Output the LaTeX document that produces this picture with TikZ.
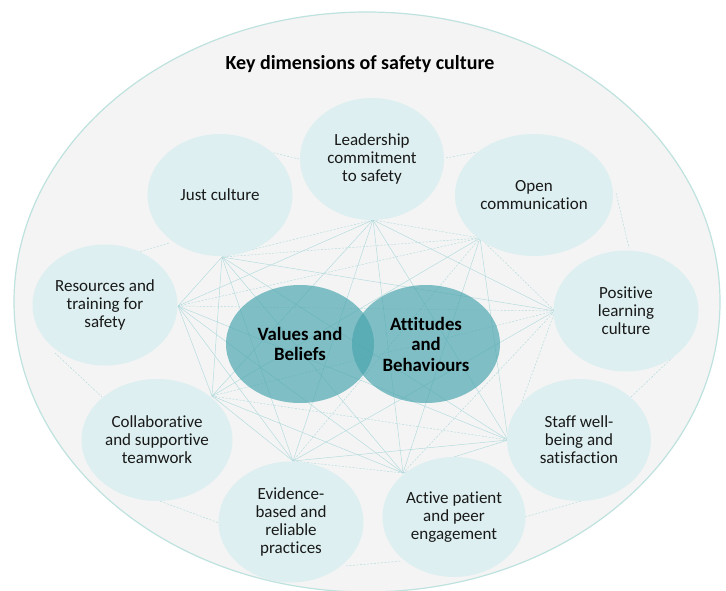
\documentclass[tikz,border=0pt]{standalone}
\usepackage{fontspec}
\setmainfont[Ligatures=NoCommon]{Carlito}
\usetikzlibrary{shapes.geometric}
\definecolor{bgc}{RGB}{244,244,244}
\definecolor{rimc}{RGB}{190,226,222}
\definecolor{lightc}{RGB}{221,239,240}
\definecolor{darkc}{RGB}{73,165,174}
\definecolor{linec}{RGB}{178,219,221}
\definecolor{txtc}{RGB}{25,25,25}
\begin{document}
\begin{tikzpicture}[x=1pt,y=-1pt,
  dim/.style={ellipse, fill=lightc, inner sep=0pt, align=center, text=txtc,
    font=\fontsize{17}{18}\selectfont},
  core/.style={ellipse, fill=darkc, fill opacity=0.68, text opacity=1, inner sep=0pt,
    align=center, text=black, font=\bfseries\fontsize{18.8}{20.5}\selectfont,
    minimum width=148pt, minimum height=118pt},
  net/.style={draw=linec, line width=0.45pt},
  netd/.style={net, dash pattern=on 2pt off 1.5pt}]
\useasboundingbox (0,0) rectangle (726,591);
\node[ellipse, fill=bgc, draw=rimc, line width=1.2pt, minimum width=706pt,
  minimum height=580pt, inner sep=0pt] (outer) at (367,302) {};
\node[font=\bfseries\fontsize{20}{22}\selectfont, text=black] (title) at (360,64)
  {Key dimensions of safety culture};
% hub points of the network
\coordinate (hL) at (373,220);
\coordinate (hO) at (480,238);
\coordinate (hP) at (555,311);
\coordinate (hS) at (508,440);
\coordinate (hA) at (403,473);
\coordinate (hE) at (293,461);
\coordinate (hC) at (212,396);
\coordinate (hR) at (178,306);
\coordinate (hJ) at (222,257);
\foreach \a/\b/\s in {hL/hO/netd, hL/hP/net, hL/hS/net, hL/hA/net, hL/hE/net, hL/hC/net,
  hL/hR/net, hL/hJ/netd, hO/hP/netd, hO/hS/net, hO/hA/net, hO/hE/netd, hO/hC/net,
  hO/hR/netd, hO/hJ/netd, hP/hS/netd, hP/hA/netd, hP/hE/net, hP/hC/netd, hP/hR/netd,
  hP/hJ/net, hS/hA/net, hS/hE/net, hS/hC/netd, hS/hR/net, hS/hJ/net, hA/hE/netd,
  hA/hC/net, hA/hR/net, hA/hJ/net, hE/hC/net, hE/hR/net, hE/hJ/net, hC/hR/net,
  hC/hJ/net, hR/hJ/net}
  \draw[\s] (\a) -- (\b);
% short links around the ring
\coordinate (r1a) at (270,152); \coordinate (r1b) at (299,159);
\coordinate (r2a) at (446,158); \coordinate (r2b) at (477,152);
\coordinate (r3a) at (616,193); \coordinate (r3b) at (629,248);
\coordinate (r4a) at (169,243); \coordinate (r4b) at (112,260);
\coordinate (r5a) at (55,353);  \coordinate (r5b) at (102,397);
\coordinate (r6a) at (157,500); \coordinate (r6b) at (219,523);
\coordinate (r7a) at (346,566); \coordinate (r7b) at (401,561);
\coordinate (r8a) at (525,517); \coordinate (r8b) at (581,501);
\coordinate (r9a) at (631,397); \coordinate (r9b) at (675,355);
\foreach \i in {1,...,9} \draw[netd] (r\i a) -- (r\i b);
% dimension circles
\node[dim, minimum width=144pt, minimum height=122pt] (lead) at (372,159)
  {Leadership\\commitment\\to safety};
\node[dim, minimum width=145pt, minimum height=122pt] (just) at (220,195)
  {Just culture};
\node[dim, minimum width=158pt, minimum height=122pt] (open) at (534,195)
  {Open\\communication};
\node[dim, minimum width=145pt, minimum height=121pt] (res) at (105,305)
  {Resources and\\training for\\safety};
\node[dim, minimum width=145pt, minimum height=121pt] (pos) at (626,311)
  {Positive\\learning\\culture};
\node[dim, minimum width=151pt, minimum height=122pt] (collab) at (157,440)
  {Collaborative\\and supportive\\teamwork};
\node[dim, minimum width=144pt, minimum height=122pt] (staff) at (579,440)
  {Staff well-\\being and\\satisfaction};
\node[dim, minimum width=145pt, minimum height=121pt] (evid) at (291,522)
  {Evidence-\\based and\\reliable\\practices};
\node[dim, minimum width=143pt, minimum height=120pt] (active) at (454,517)
  {Active patient\\and peer\\engagement};
% core circles
\node[core] (values) at (300,344) {Values and\\Beliefs};
\node[core] (attit) at (426,344) {Attitudes\\and\\Behaviours};
\end{tikzpicture}
\end{document}
